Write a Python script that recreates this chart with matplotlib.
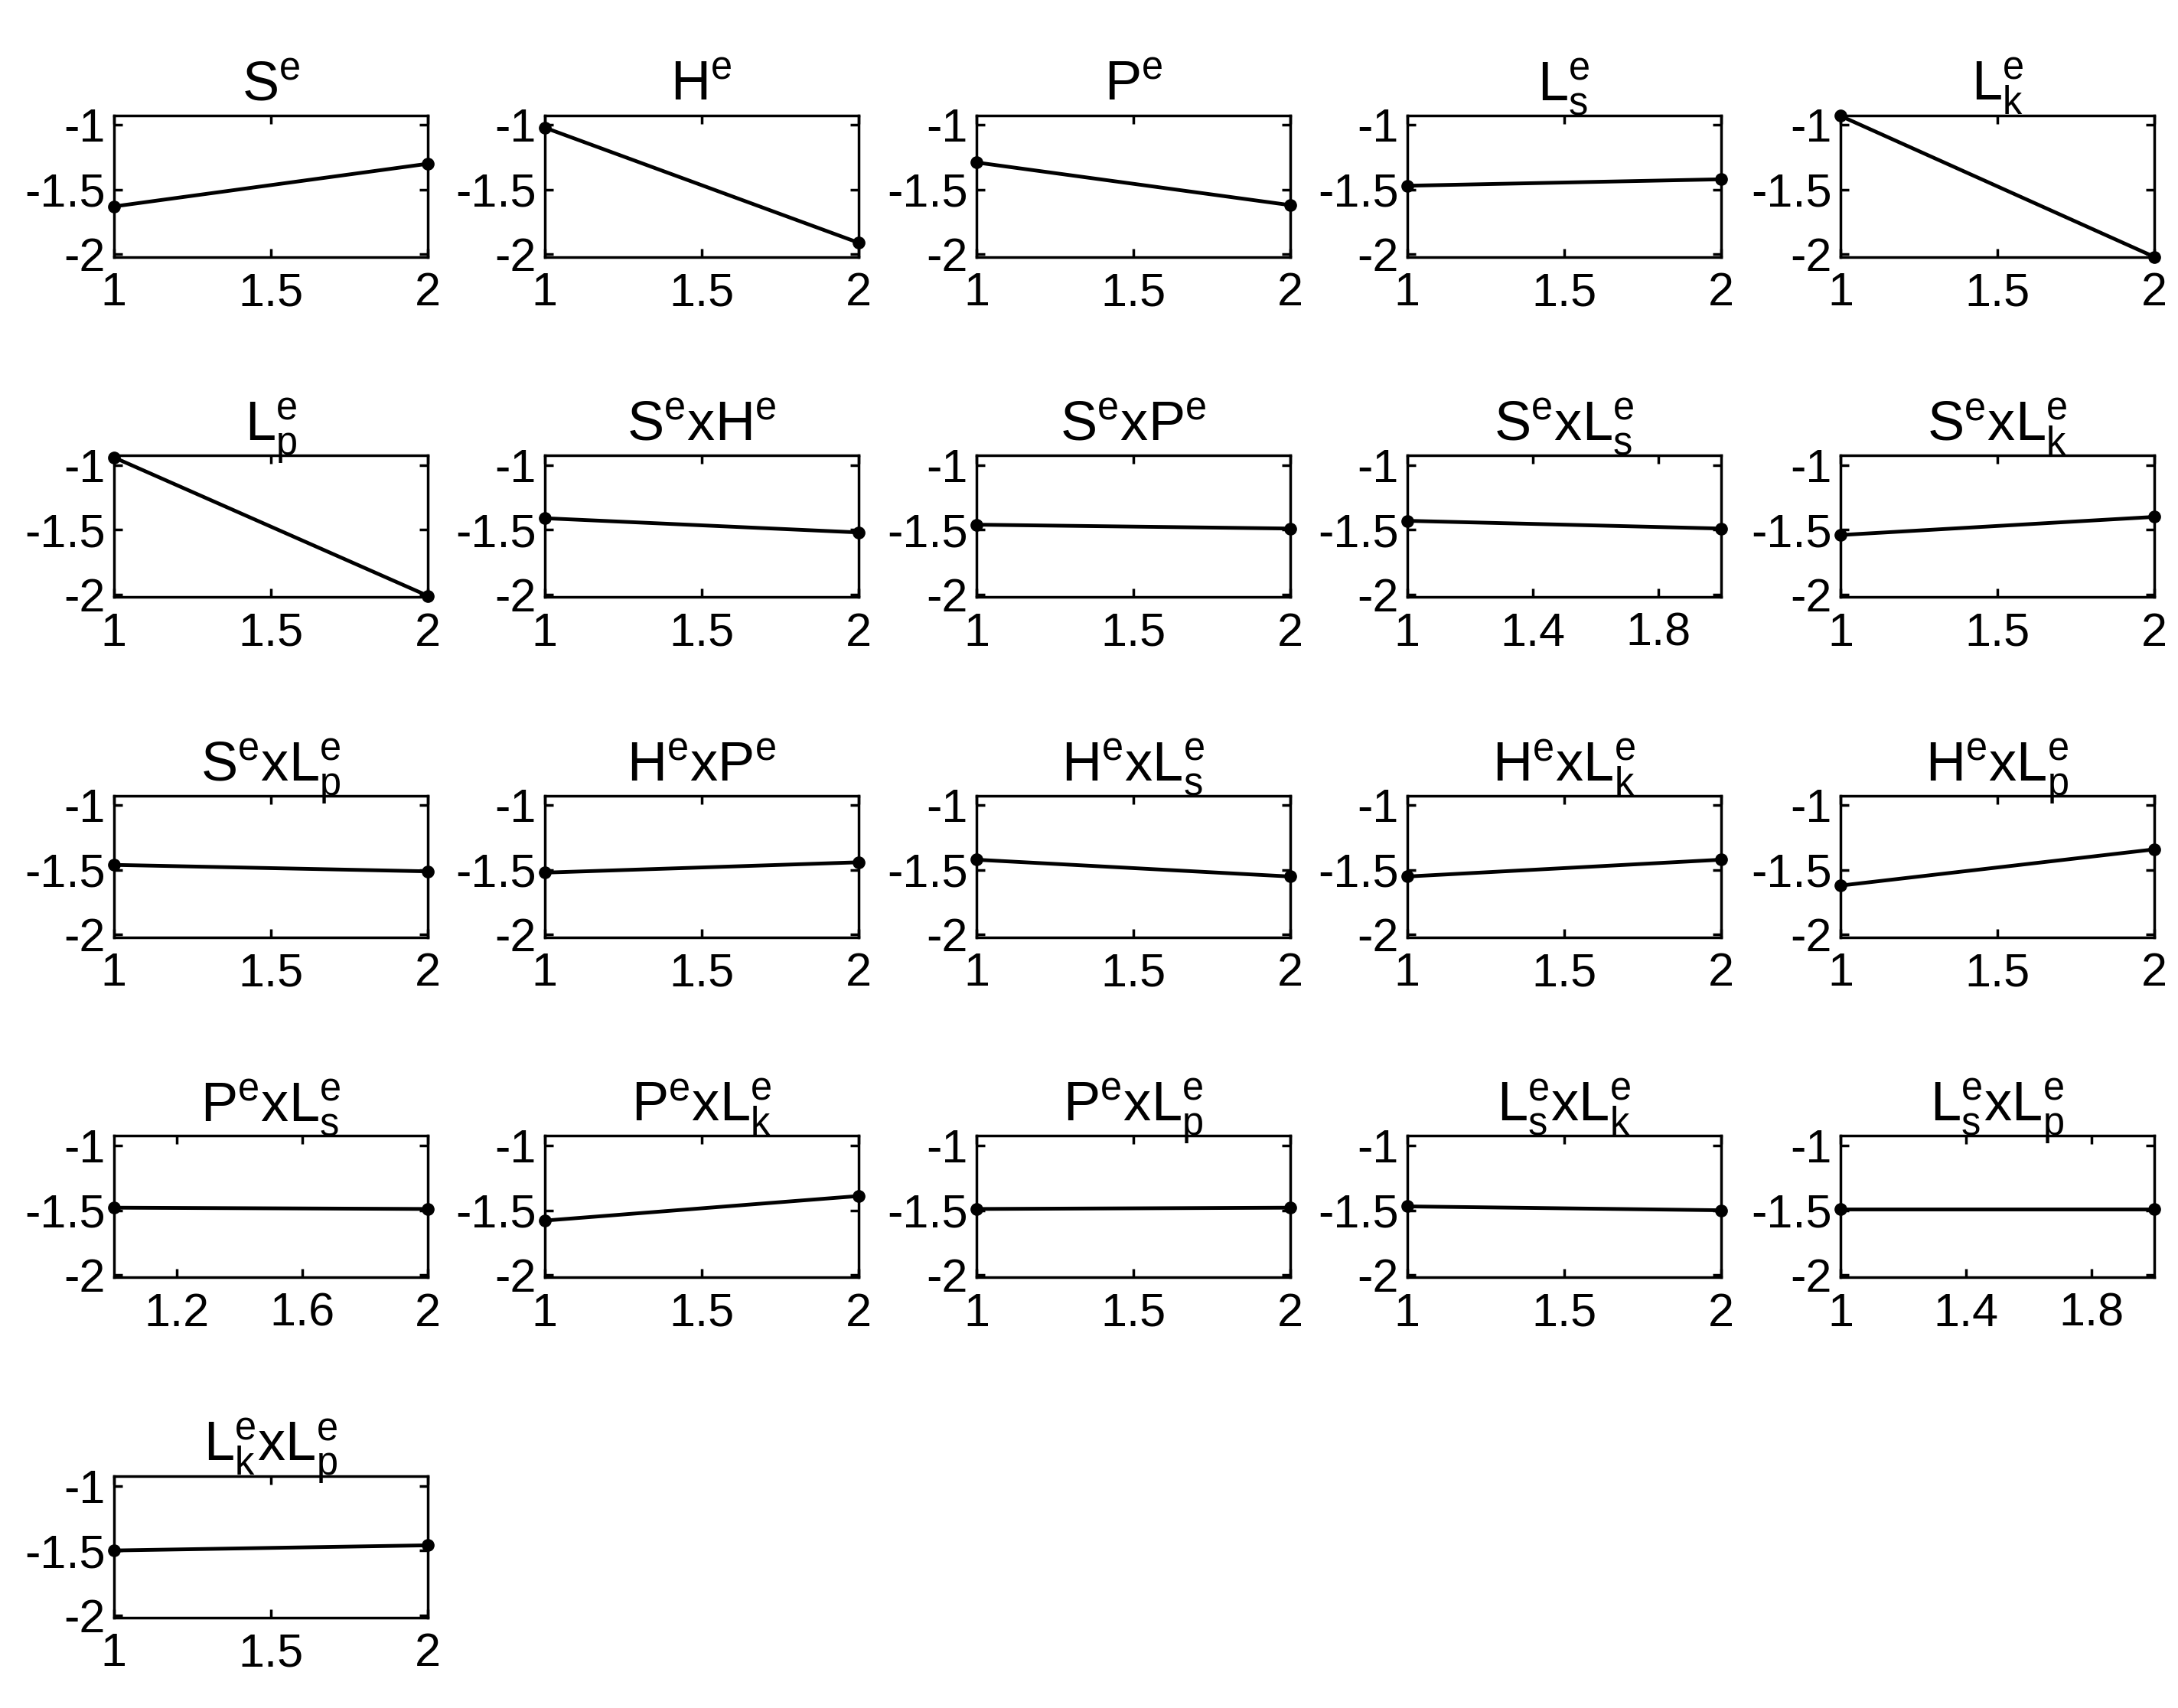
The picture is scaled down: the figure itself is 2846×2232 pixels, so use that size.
import matplotlib
matplotlib.use("Agg")
import matplotlib.pyplot as plt

plt.rcParams['font.family'] = ['Liberation Sans', 'DejaVu Sans']
plt.rcParams['mathtext.fontset'] = 'custom'
plt.rcParams['mathtext.rm'] = 'Liberation Sans'
plt.rcParams['mathtext.it'] = 'Liberation Sans'

titles = [r'S^e', r'H^e', r'P^e', r'L_s^e', r'L_k^e',
          r'L_p^e', r'S^exH^e', r'S^exP^e', r'S^exL_s^e', r'S^exL_k^e',
          r'S^exL_p^e', r'H^exP^e', r'H^exL_s^e', r'H^exL_k^e', r'H^exL_p^e',
          r'P^exL_s^e', r'P^exL_k^e', r'P^exL_p^e', r'L_s^exL_k^e', r'L_s^exL_p^e',
          r'L_k^exL_p^e']
levels = [1, 2]
effects = [
    [-1.63, -1.30], [-1.02, -1.91], [-1.29, -1.62], [-1.47, -1.42], [-0.93, -2.02],
    [-0.94, -2.01], [-1.41, -1.52], [-1.46, -1.49], [-1.43, -1.49], [-1.54, -1.40],
    [-1.46, -1.51], [-1.52, -1.44], [-1.42, -1.55], [-1.55, -1.42], [-1.62, -1.34],
    [-1.48, -1.49], [-1.58, -1.39], [-1.49, -1.48], [-1.47, -1.50], [-1.49, -1.49],
    [-1.50, -1.46],
]
xticks_alt = {8: [1, 1.4, 1.8], 19: [1, 1.4, 1.8], 15: [1.2, 1.6, 2]}
yticks = [-2, -1.5, -1]
ytick_labels = ['-2', '-1.5', '-1']

fig = plt.figure(figsize=(28.46, 22.32), dpi=100)
W, H = 1568, 1230
lefts = [82, 392, 703, 1013, 1325]
tops = [83, 328, 573, 818, 1063]
aw, ah = 226, 102
for i, (t, y) in enumerate(zip(titles, effects)):
    r, c = divmod(i, 5)
    ax = fig.add_axes([lefts[c] / W, 1 - (tops[r] + ah) / H, aw / W, ah / H])
    ax.plot(levels, y, color='black', lw=3.5, marker='o', ms=11, clip_on=False)
    ax.set_xlim(1, 2)
    ax.set_ylim(-2.02, -0.925)
    xt = xticks_alt.get(i, [1, 1.5, 2])
    ax.set_xticks(xt)
    ax.set_xticklabels([('%g' % v) for v in xt])
    ax.set_yticks(yticks)
    ax.set_yticklabels(ytick_labels)
    ax.tick_params(labelsize=44, width=2.5, length=8, direction='in', top=True, right=True, pad=8)
    ax.tick_params(axis='x', pad=14)
    for s in ax.spines.values():
        s.set_linewidth(2.5)
    ax.set_title('$\\mathrm{' + t + '}$', fontsize=52, pad=14)

fig.savefig('out.png', dpi=100)
